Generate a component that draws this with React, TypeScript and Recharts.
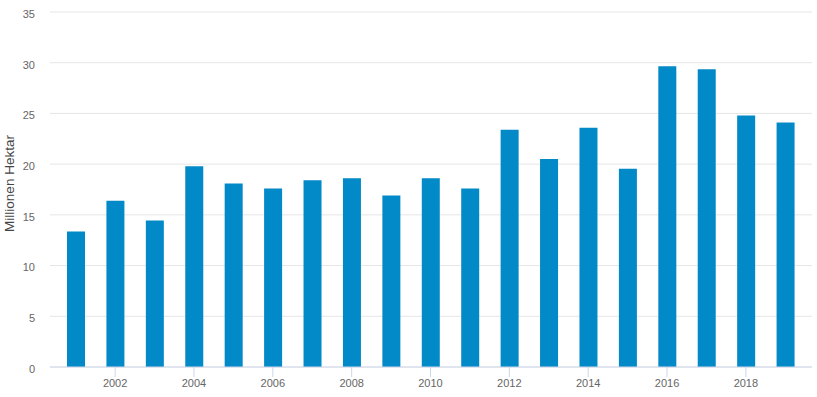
import React from 'react';
import { BarChart, Bar, XAxis, YAxis, CartesianGrid } from 'recharts';

// Jahre und Werte (Millionen Hektar)
const years = ['2001', '2002', '2003', '2004', '2005', '2006', '2007', '2008', '2009', '2010',
    '2011', '2012', '2013', '2014', '2015', '2016', '2017', '2018', '2019'];
const values = [13.35, 16.4, 14.45, 19.8, 18.1, 17.6, 18.4, 18.6, 16.9, 18.6,
    17.6, 23.4, 20.5, 23.6, 19.55, 29.65, 29.35, 24.8, 24.1];
const yTicks = [0, 5, 10, 15, 20, 25, 30, 35];

const data = years.map((year, i) => ({ year, value: values[i] }));

const BAR_COLOR = '#0289c7';
const AXIS_COLOR = '#ccd6eb';

// nur jedes zweite Jahr bekommt Strich + Beschriftung
const YearTick = (props: any) => {
    const { x, y, payload } = props;
    if (Number(payload.value) % 2 !== 0) return null;
    return (
        <g>
            <line x1={x} x2={x} y1={y} y2={y + 10} stroke={AXIS_COLOR} strokeWidth={1} />
            <text x={x} y={y + 20} textAnchor="middle" fill="#666" fontSize={11}>
                {payload.value}
            </text>
        </g>
    );
};

const YLabel = (props: any) => {
    const { viewBox } = props;
    const cy = viewBox.y + viewBox.height / 2 - 6;
    return (
        <text transform={`translate(14,${cy}) rotate(-90)`} textAnchor="middle" fill="#444" fontSize={13.5}>
            Millionen Hektar
        </text>
    );
};

export default function App() {
    return (
        <div style={{ position: 'absolute', left: 0, top: 0, width: 817, height: 397, fontFamily: '"Liberation Sans", Arial, sans-serif' }}>
            <BarChart width={817} height={397} data={data} margin={{ top: 12, right: 5, bottom: 0, left: 0 }}>
                <CartesianGrid vertical={false} stroke="#e6e6e6" />
                <XAxis
                    dataKey="year"
                    height={30}
                    interval={0}
                    padding={{ left: 6, right: 7 }}
                    tickLine={false}
                    tickSize={0}
                    tickMargin={0}
                    axisLine={{ stroke: AXIS_COLOR }}
                    tick={<YearTick />}
                />
                <YAxis
                    width={50}
                    domain={[0, 35]}
                    ticks={yTicks}
                    axisLine={false}
                    tickLine={false}
                    tickSize={6}
                    tickMargin={9}
                    tick={{ fill: '#666', fontSize: 11, dy: 2 }}
                    label={<YLabel />}
                />
                <Bar dataKey="value" fill={BAR_COLOR} barSize={18} isAnimationActive={false} />
            </BarChart>
        </div>
    );
}
